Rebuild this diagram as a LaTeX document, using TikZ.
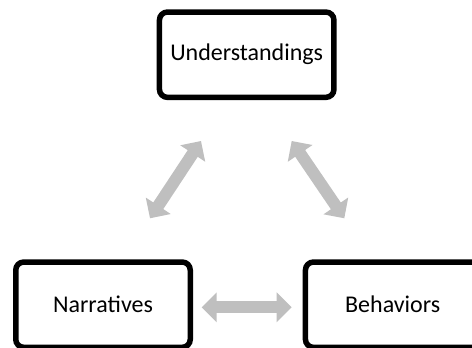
\documentclass[tikz,border=0pt]{standalone}
\usepackage{fontspec}
\setmainfont{Carlito}
\usetikzlibrary{arrows.meta}
\definecolor{linkgray}{RGB}{191,191,191}
\tikzset{
  box/.style={draw=black, line width=5.5pt, rounded corners=8pt, fill=white,
    minimum width=174.5pt, minimum height=85.3pt, inner sep=0pt,
    font=\fontsize{24}{29}\selectfont},
  biarrow/.style={draw=linkgray, line width=12pt,
    {Triangle[length=15pt,width=29pt]}-{Triangle[length=15pt,width=29pt]}}
}
\begin{document}
\begin{tikzpicture}[x=1pt, y=-1pt]
  \useasboundingbox (0,0) rectangle (472,348);
  % the three stages
  \node[box] (u) at (246.7,54.7) {Understandings};
  \node[box] (n) at (103,304.7) {Narratives};
  \node[box] (b) at (392.7,304.7) {Behaviors};
  % arrow ends
  \coordinate (un1) at (201,141);
  \coordinate (un2) at (150,218.3);
  \coordinate (ub1) at (291.7,141);
  \coordinate (ub2) at (344.3,218.3);
  \coordinate (nb1) at (201.7,307.3);
  \coordinate (nb2) at (291.7,307.3);
  % two-way links
  \draw[biarrow] (un1) -- (un2);
  \draw[biarrow] (ub1) -- (ub2);
  \draw[biarrow] (nb1) -- (nb2);
\end{tikzpicture}
\end{document}
